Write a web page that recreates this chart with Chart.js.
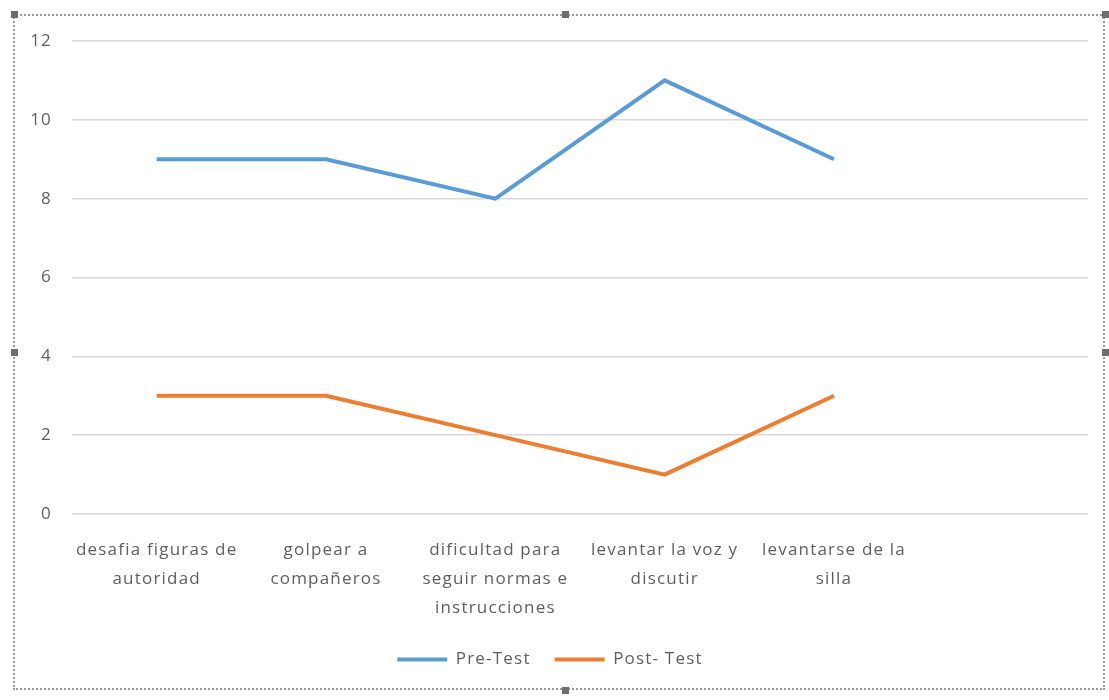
<!DOCTYPE html>
<html>
<head>
<meta charset="utf-8">
<script src="https://cdn.jsdelivr.net/npm/chart.js@4"></script>
<style>
  body { margin: 0; background: #fff; }
  #wrap { position: relative; width: 1109px; height: 700px; }
  #frame { position: absolute; left: 13px; top: 14px; width: 1092px; height: 676px;
           border: 2px dotted #9a9a9a; box-sizing: border-box; }
  .h { position: absolute; width: 7px; height: 7px; background: #6e6e6e; }
  canvas { position: absolute; left: 0; top: 0; }
</style>
</head>
<body>
<div id="wrap">
  <div id="frame"></div>
  <div class="h" style="left:11px;top:11px"></div>
  <div class="h" style="left:562px;top:11px"></div>
  <div class="h" style="left:1102px;top:11px"></div>
  <div class="h" style="left:11px;top:349px"></div>
  <div class="h" style="left:1102px;top:349px"></div>
  <div class="h" style="left:562px;top:687px"></div>
  <canvas id="chart" width="1109" height="700"></canvas>
</div>
<script>
// ---- data ----
const categories = [
    ["desafia figuras de", "autoridad"],
    ["golpear a", "compañeros"],
    ["dificultad para", "seguir normas e", "instrucciones"],
    ["levantar la voz y", "discutir"],
    ["levantarse de la", "silla"],
    ""
];
const preTest = [9, 9, 8, 11, 9, null];
const postTest = [3, 3, 2, 1, 3, null];
const yTicks = [0, 2, 4, 6, 8, 10, 12];

const textColor = "#5f5f5f";
const fontFamily = "'Open Sans', 'Liberation Sans', sans-serif";

// the scanned labels look widely spaced
const spacing = {
    id: "spacing",
    beforeUpdate: function (chart) { chart.ctx.letterSpacing = "1.2px"; },
    beforeDraw: function (chart) { chart.ctx.letterSpacing = "1.2px"; }
};

new Chart(document.getElementById("chart").getContext("2d"), {
    type: "line",
    plugins: [spacing],
    data: {
        labels: categories,
        datasets: [{
            label: "Pre-Test",
            data: preTest,
            borderColor: "#5B9BD5",
            backgroundColor: "#5B9BD5",
            borderWidth: 4,
            pointRadius: 0,
            tension: 0
        }, {
            label: "Post- Test",
            data: postTest,
            borderColor: "#ED7D31",
            backgroundColor: "#ED7D31",
            borderWidth: 4,
            pointRadius: 0,
            tension: 0
        }]
    },
    options: {
        responsive: false,
        animation: false,
        layout: { padding: { left: 12, right: 21, top: 41, bottom: 22 } },
        plugins: {
            legend: {
                position: "bottom",
                labels: {
                    usePointStyle: true,
                    pointStyle: "line",
                    pointStyleWidth: 50,
                    color: textColor,
                    padding: 24,
                    font: { family: fontFamily, size: 17 }
                }
            },
            tooltip: { enabled: false }
        },
        scales: {
            x: {
                offset: true,
                grid: { display: false, drawTicks: false, offset: true },
                border: { display: false },
                ticks: {
                    color: textColor,
                    maxRotation: 0,
                    autoSkip: false,
                    padding: 22,
                    font: { family: fontFamily, size: 17, lineHeight: 1.7 }
                },
                afterFit: function (scale) { scale.height = 113; }
            },
            y: {
                min: 0,
                max: 12,
                afterBuildTicks: function (scale) {
                    scale.ticks = yTicks.map(function (v) { return { value: v }; });
                },
                grid: { color: "#d9d9d9", lineWidth: 1.5, drawTicks: false },
                border: { display: false },
                ticks: {
                    color: textColor,
                    padding: 20,
                    font: { family: fontFamily, size: 17 }
                },
                afterFit: function (scale) { scale.width = 60; }
            }
        }
    }
});
</script>
</body>
</html>
